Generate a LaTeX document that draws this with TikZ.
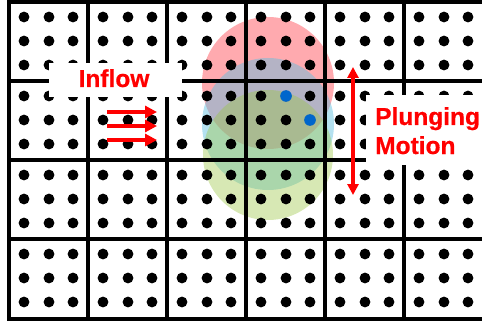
\documentclass[tikz,border=0pt]{standalone}
\usepackage{fontspec}
\setmainfont{Liberation Sans}
\newfontfamily\labelfont[FakeBold=0.6]{Liberation Sans Bold}
\usetikzlibrary{arrows.meta}
\definecolor{redc}{RGB}{255,85,95}
\definecolor{cyanc}{RGB}{96,191,223}
\definecolor{greenc}{RGB}{155,198,68}
\definecolor{bluedot}{RGB}{0,102,204}
\definecolor{labelred}{RGB}{255,0,0}
\begin{document}
\begin{tikzpicture}[x=1pt,y=-1pt,
  gridline/.style={line width=3.2pt,black,line cap=rect},
  thickgrid/.style={line width=4.6pt,black,line cap=rect},
  blob/.style={fill opacity=#1},
  labeltext/.style={text=labelred,font=\labelfont\fontsize{24.5}{29}\selectfont,inner sep=0pt},
  flowarrow/.style={draw=labelred,line width=3.8pt,-{Triangle[length=12pt,width=12pt]}},
  plungearrow/.style={draw=labelred,line width=3.4pt,{Triangle[length=11pt,width=11pt]}-{Triangle[length=11pt,width=11pt]}},
  labelbox/.style={fill=white}]
\useasboundingbox (0,0) rectangle (482,326);
% translucent circles
\fill[redc,blob=0.5] (268,83) circle[radius=66pt];
\fill[cyanc,blob=0.47] (268,124) circle[radius=66pt];
\fill[greenc,blob=0.4] (268,155) circle[radius=65pt];
% grid
\foreach \gx in {9,88,167,246,325,404} \draw[gridline] (\gx,2) -- (\gx,319);
\foreach \gy in {2,81,160,319} \draw[gridline] (9,\gy) -- (485,\gy);
\draw[thickgrid] (9,239) -- (485,239);
% dots
\foreach \c in {0,...,5}
  \foreach \r in {0,...,3}
    \foreach \i in {15,40,64}
      \foreach \j in {15,39,63}
        \fill ({9+79*\c+\i},{2+79*\r+\j}) circle[radius=5.4pt];
\fill[bluedot] (286,96) circle[radius=5.8pt];
\fill[bluedot] (310,120) circle[radius=5.8pt];
% label boxes
\fill[labelbox] (49,63) rectangle (182,97);
\fill[labelbox] (366,95) rectangle (485,165);
% labels
\node[labeltext,anchor=base] (inflow) at (114,87) {Inflow};
\node[labeltext,anchor=base west] (plunging) at (375,125) {Plunging};
\node[labeltext,anchor=base west] (motion) at (375,154) {Motion};
% inflow arrows
\coordinate (a1s) at (107,112); \coordinate (a1e) at (157,112);
\coordinate (a2s) at (107,126); \coordinate (a2e) at (157,126);
\coordinate (a3s) at (107,140); \coordinate (a3e) at (157,140);
\draw[flowarrow] (a1s) -- (a1e);
\draw[flowarrow] (a2s) -- (a2e);
\draw[flowarrow] (a3s) -- (a3e);
% plunging arrow
\coordinate (ptop) at (353,67); \coordinate (pbot) at (353,195);
\draw[plungearrow] (ptop) -- (pbot);
\end{tikzpicture}
\end{document}
